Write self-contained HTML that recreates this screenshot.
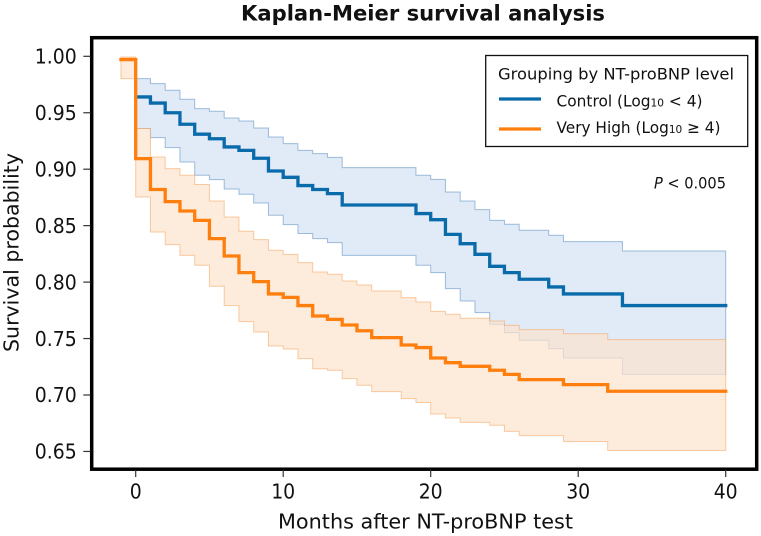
<!DOCTYPE html>
<html lang="en">
<head>
<meta charset="utf-8">
<title>Kaplan-Meier survival analysis</title>
<style>
html,body{margin:0;padding:0;background:#fff;width:761px;height:536px;overflow:hidden}
svg{display:block}
text{font-family:"DejaVu Sans","Liberation Sans",sans-serif;fill:#111}
</style>
</head>
<body>
<svg id="chart" width="761" height="536" viewBox="0 0 761 536" xmlns="http://www.w3.org/2000/svg">
<text x="241" y="20.5" font-size="21.5" font-weight="700" textLength="364" lengthAdjust="spacingAndGlyphs">Kaplan-Meier survival analysis</text>
<g id="bands"></g>
<g id="lines"></g>
<rect x="91.7" y="37.7" width="665" height="431.5" fill="none" stroke="#000" stroke-width="3.5"/>
<g id="xticks"></g>
<g id="yticks"></g>
<text x="278" y="528.3" font-size="20.6" textLength="295" lengthAdjust="spacingAndGlyphs">Months after NT-proBNP test</text>
<text transform="translate(18.5,352) rotate(-90)" font-size="20.6" textLength="199" lengthAdjust="spacingAndGlyphs">Survival probability</text>
<g>
<rect x="485.7" y="55.5" width="262" height="91" fill="#fff" stroke="#111" stroke-width="1.3"/>
<text x="498" y="79.3" font-size="16" textLength="236" lengthAdjust="spacingAndGlyphs">Grouping by NT-proBNP level</text>
<line x1="499" y1="99" x2="541" y2="99" stroke="#0a6bab" stroke-width="3.2"/>
<text x="556.5" y="106.5" font-size="16" textLength="146" lengthAdjust="spacingAndGlyphs">Control (Log<tspan font-size="11">10</tspan> &lt; 4)</text>
<line x1="499" y1="129" x2="541" y2="129" stroke="#ff7f0e" stroke-width="3.2"/>
<text x="556.5" y="133.2" font-size="16" textLength="164" lengthAdjust="spacingAndGlyphs">Very High (Log<tspan font-size="11">10</tspan> ≥ 4)</text>
</g>
<text x="654" y="188.3" font-size="16" textLength="72" lengthAdjust="spacingAndGlyphs"><tspan font-style="italic">P</tspan> &lt; 0.005</text>
</svg>
<script>
const xTicks = [0, 10, 20, 30, 40];
const yTicks = [1.00, 0.95, 0.90, 0.85, 0.80, 0.75, 0.70, 0.65];
const endMonth = 40;
const controlMonths = [0,1,2,3,4,5,6,7,8,9,10,11,12,13,14,19,20,21,22,23,24,25,26,28,29,33];
const controlSurvival = [.964,.9586,.950,.9398,.931,.927,.9197,.9167,.9097,.8984,.8928,.8855,.882,.8784,.8683,.8607,.8553,.8423,.834,.8246,.814,.8084,.8025,.7957,.7895,.7792];
const controlUpper = [.9802,.9758,.9699,.9619,.9537,.9513,.9454,.9427,.9365,.9285,.9227,.9167,.9138,.9105,.9014,.8946,.891,.8798,.8718,.8642,.8547,.8512,.8459,.8415,.8359,.8276];
const controlLower = [.936,.928,.9191,.9064,.8946,.8908,.8825,.8778,.8701,.8592,.8509,.843,.8385,.835,.8237,.8149,.8084,.7942,.7833,.773,.7626,.7553,.7485,.7411,.7328,.7183];
const highMonths = [-1,0,1,2,3,4,5,6,7,8,9,10,11,12,13,14,15,16,18,19,20,21,22,24,25,26,29,32];
const highSurvival = [.9971,.9094,.882,.8713,.863,.8547,.8385,.8231,.8084,.8004,.7895,.7865,.7792,.77,.767,.762,.7569,.7508,.7443,.742,.7328,.7286,.7254,.7219,.7183,.7136,.7092,.7033];
const highUpper = [.9994,.936,.9108,.9005,.8946,.8864,.8718,.8577,.845,.8376,.8282,.8246,.8173,.809,.8069,.801,.7974,.7921,.7862,.7824,.7741,.7715,.768,.7656,.7617,.7579,.7543,.749];
const highLower = [.9802,.8754,.8444,.8332,.8237,.8149,.7963,.7792,.765,.7558,.7434,.7407,.7322,.7233,.7219,.7145,.7086,.703,.6968,.6933,.6832,.6796,.6758,.6732,.6678,.664,.6587,.6508];

const NS = 'http://www.w3.org/2000/svg';
const xScale = m => 135.7 + 14.75 * m;
const yScale = v => 56.3 + (1 - v) * 1129;

function stepCoords(months, values) {
  const pts = [];
  months.forEach((m, i) => {
    const next = i + 1 < months.length ? months[i + 1] : endMonth;
    pts.push([xScale(m), yScale(values[i])]);
    pts.push([xScale(next), yScale(values[i])]);
  });
  return pts;
}
function toPath(pts) {
  return pts.map((p, i) => (i ? 'L' : 'M') + p[0].toFixed(2) + ' ' + p[1].toFixed(2)).join('');
}
function bandEl(months, upper, lower, fill, stroke) {
  const up = stepCoords(months, upper);
  const low = stepCoords(months, lower).reverse();
  const el = document.createElementNS(NS, 'path');
  el.setAttribute('d', toPath(up.concat(low)) + 'Z');
  el.setAttribute('fill', fill);
  el.setAttribute('stroke', stroke);
  el.setAttribute('stroke-width', '1');
  return el;
}
function lineEl(months, values, color) {
  const el = document.createElementNS(NS, 'path');
  el.setAttribute('d', toPath(stepCoords(months, values)));
  el.setAttribute('fill', 'none');
  el.setAttribute('stroke', color);
  el.setAttribute('stroke-width', '3.3');
  el.setAttribute('stroke-linejoin', 'miter');
  el.setAttribute('stroke-linecap', 'square');
  return el;
}
const bands = document.getElementById('bands');
const lines = document.getElementById('lines');

const bandControl = bandEl(controlMonths, controlUpper, controlLower, 'rgba(90,140,210,0.18)', 'rgba(70,130,185,0.5)');


bands.appendChild(bandControl);

const bandHigh = bandEl(highMonths, highUpper, highLower, 'rgba(252,226,205,0.7)', 'rgba(245,170,105,0.6)');


bands.appendChild(bandHigh);

const lineControl = lineEl(controlMonths, controlSurvival, '#0a6bab');


lines.appendChild(lineControl);

const lineHigh = lineEl(highMonths, highSurvival, '#ff7f0e');


lines.appendChild(lineHigh);

const xg = document.getElementById('xticks');
xTicks.forEach(t => {
  const tick = document.createElementNS(NS, 'line');
  
  
  tick.setAttribute('x1', xScale(t));
  tick.setAttribute('x2', xScale(t));
  tick.setAttribute('y1', 470);
  tick.setAttribute('y2', 477);
  tick.setAttribute('stroke', '#333');
  tick.setAttribute('stroke-width', '1.2');
  xg.appendChild(tick);
  const label = document.createElementNS(NS, 'text');
  const text = String(t);
  
  
  label.setAttribute('x', xScale(t) - text.length * 6);
  label.setAttribute('y', 498.3);
  label.setAttribute('font-size', '20.6');
  label.setAttribute('textLength', text.length * 12);
  label.setAttribute('lengthAdjust', 'spacingAndGlyphs');
  label.textContent = text;
  xg.appendChild(label);
});
const yg = document.getElementById('yticks');
yTicks.forEach(t => {
  const tick = document.createElementNS(NS, 'line');
  
  
  tick.setAttribute('x1', 83.3);
  tick.setAttribute('x2', 90.5);
  tick.setAttribute('y1', yScale(t));
  tick.setAttribute('y2', yScale(t));
  tick.setAttribute('stroke', '#333');
  tick.setAttribute('stroke-width', '1.2');
  yg.appendChild(tick);
  const label = document.createElementNS(NS, 'text');
  
  
  label.setAttribute('x', 34.8);
  label.setAttribute('y', yScale(t) + 7.2);
  label.setAttribute('font-size', '20.6');
  label.setAttribute('textLength', 42);
  label.setAttribute('lengthAdjust', 'spacingAndGlyphs');
  label.textContent = t.toFixed(2);
  yg.appendChild(label);
});
</script>
</body>
</html>
